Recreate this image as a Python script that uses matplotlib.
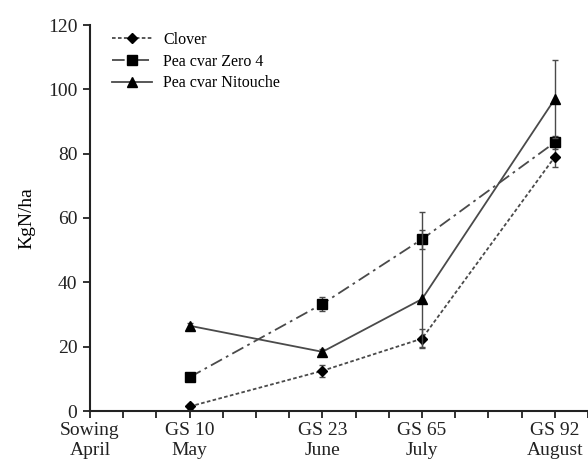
import numpy as np
import matplotlib.pyplot as plt

plt.rcParams['font.family'] = ['Liberation Serif', 'DejaVu Serif']

# growth stages on a weekly-ish position scale
stage_pos = [3, 7, 10, 14]
tick_pos = [0, 3, 7, 10, 14]
tick_text = ["Sowing\nApril", "GS 10\nMay", "GS 23\nJune", "GS 65\nJuly", "GS 92\nAugust"]

clover = [1.4, 12.5, 22.5, 79.0]
clover_err = [0.8, 1.8, 3.0, 3.0]

zero4 = [10.5, 33.3, 53.4, 83.5]
zero4_err = [1.0, 2.2, 3.0, 2.0]

nitouche = [26.5, 18.4, 34.8, 97.0]
nitouche_err_lo = [1.0, 1.0, 15.0, 12.0]
nitouche_err_hi = [1.0, 1.0, 27.0, 12.0]

fig = plt.figure(figsize=(5.88, 4.67), dpi=100)
ax = fig.add_axes([90/588, 1 - 411/467, (588 - 90)/588, (411 - 25)/467])

line_col = '#4a4a4a'

series = [
    (clover, clover_err, (0, (2, 1.3)), 'D', 5.5, 'Clover'),
    (zero4, zero4_err, (0, (7, 2.5, 1.5, 2.5)), 's', 7, 'Pea cvar Zero 4'),
    (nitouche, [nitouche_err_lo, nitouche_err_hi], '-', '^', 7, 'Pea cvar Nitouche'),
]
for y, err, ls, mk, ms, lab in series:
    ax.errorbar(stage_pos, y, yerr=err, fmt='none', ecolor=line_col, elinewidth=1, capsize=2)
    ax.plot(stage_pos, y, color=line_col, ls=ls, lw=1.3, marker=mk, ms=ms,
            mfc='black', mec='black', label=lab)

ax.set_xlim(0, 15)
ax.set_ylim(0, 120)
ax.set_yticks(np.arange(0, 121, 20))
ax.set_xticks(range(16))
labels = [""] * 16
for p, t in zip(tick_pos, tick_text):
    labels[p] = t
ax.set_xticklabels(labels)

ax.tick_params(axis='both', labelsize=14, width=1.3, length=5, direction='out', colors='#222')
ax.tick_params(axis='x', pad=3)
ax.tick_params(axis='y', pad=4)
ax.set_ylabel("KgN/ha", fontsize=14, labelpad=9)

for s in ['top', 'right']:
    ax.spines[s].set_visible(False)
for s in ['left', 'bottom']:
    ax.spines[s].set_linewidth(1.5)
    ax.spines[s].set_color('#222')

ax.legend(loc='upper left', bbox_to_anchor=(112/588, 1 - 32/467), bbox_transform=fig.transFigure,
          frameon=False, fontsize=11.5, handlelength=2.5, handletextpad=0.7, labelspacing=0.35,
          borderpad=0, borderaxespad=0, numpoints=1)

fig.savefig("out.png", dpi=100)
